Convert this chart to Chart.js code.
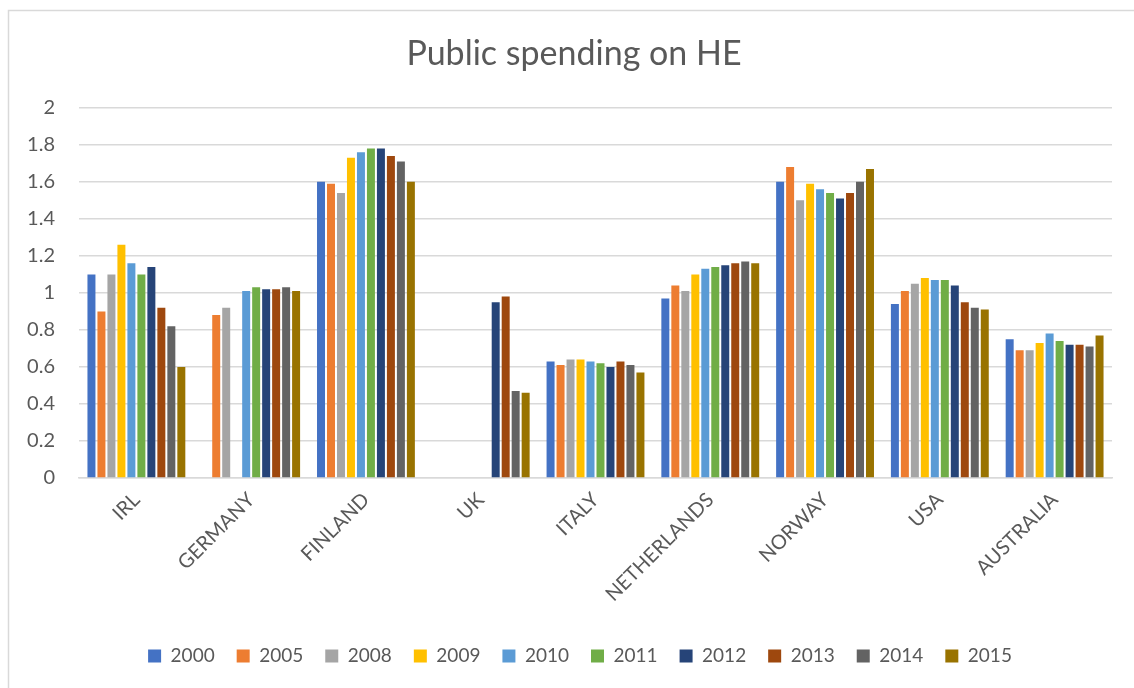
<!DOCTYPE html>
<html>
<head>
<meta charset="utf-8">
<title>Public spending on HE</title>
<script src="https://cdn.jsdelivr.net/npm/chart.js@4/dist/chart.umd.min.js"></script>
<style>
  html, body { margin: 0; padding: 0; background: #ffffff; }
  #wrap { position: relative; width: 1134px; height: 688px; overflow: hidden; }
  canvas { display: block; }
</style>
</head>
<body>
<div id="wrap"><canvas id="chart" width="1134" height="688"></canvas></div>
<script>
// Countries on the category axis
const countries = ['IRL', 'GERMANY', 'FINLAND', 'UK', 'ITALY', 'NETHERLANDS', 'NORWAY', 'USA', 'AUSTRALIA'];

// Public spending on higher education, one array per year (null = no data)
const y2000 = [1.10, null, 1.60, null, 0.63, 0.97, 1.60, 0.94, 0.75];
const y2005 = [0.90, 0.88, 1.59, null, 0.61, 1.04, 1.68, 1.01, 0.69];
const y2008 = [1.10, 0.92, 1.54, null, 0.64, 1.01, 1.50, 1.05, 0.69];
const y2009 = [1.26, null, 1.73, null, 0.64, 1.10, 1.59, 1.08, 0.73];
const y2010 = [1.16, 1.01, 1.76, null, 0.63, 1.13, 1.56, 1.07, 0.78];
const y2011 = [1.10, 1.03, 1.78, null, 0.62, 1.14, 1.54, 1.07, 0.74];
const y2012 = [1.14, 1.02, 1.78, 0.95, 0.60, 1.15, 1.51, 1.04, 0.72];
const y2013 = [0.92, 1.02, 1.74, 0.98, 0.63, 1.16, 1.54, 0.95, 0.72];
const y2014 = [0.82, 1.03, 1.71, 0.47, 0.61, 1.17, 1.60, 0.92, 0.71];
const y2015 = [0.60, 1.01, 1.60, 0.46, 0.57, 1.16, 1.67, 0.91, 0.77];

const years = ['2000', '2005', '2008', '2009', '2010', '2011', '2012', '2013', '2014', '2015'];
const seriesValues = [y2000, y2005, y2008, y2009, y2010, y2011, y2012, y2013, y2014, y2015];
const seriesColors = ['#4472C4', '#ED7D31', '#A5A5A5', '#FFC000', '#5B9BD5',
                      '#70AD47', '#264478', '#9E480E', '#636363', '#997300'];

// Y-axis tick labels
const yTicks = ['0', '0.2', '0.4', '0.6', '0.8', '1', '1.2', '1.4', '1.6', '1.8', '2'];

const textColor = '#595959';
const gridColor = '#d9d9d9';
const fontFamily = 'Lato, "Open Sans", "Liberation Sans", sans-serif';

// Light frame around the whole chart
const framePlugin = {
  id: 'frame',
  beforeDraw(chart) {
    const ctx = chart.ctx;
    ctx.save();
    ctx.fillStyle = '#ffffff';
    ctx.fillRect(0, 0, chart.width, chart.height);
    ctx.strokeStyle = gridColor;
    ctx.lineWidth = 1.5;
    ctx.strokeRect(8.5, 10.5, chart.width + 20, chart.height + 20);
    ctx.restore();
  }
};

// Centre the title and legend on the frame rather than on the padded layout box
const centreShift = {
  id: 'centreShift',
  afterLayout(chart) {
    if (chart.legend) {
      chart.legend.left += 19;
      chart.legend.right += 19;
    }
    if (chart.titleBlock) {
      chart.titleBlock.left += 13;
      chart.titleBlock.right += 13;
    }
  }
};

new Chart(document.getElementById('chart'), {
  type: 'bar',
  data: {
    labels: countries,
    datasets: years.map((yr, i) => ({
      label: yr,
      data: seriesValues[i],
      backgroundColor: seriesColors[i],
      borderWidth: 0,
      categoryPercentage: 0.87,
      barPercentage: 0.8
    }))
  },
  options: {
    responsive: false,
    animation: false,
    layout: { padding: { left: 10, right: 22, top: 0, bottom: 12.5 } },
    plugins: {
      title: {
        display: true,
        text: 'Public spending on HE',
        color: textColor,
        font: { family: fontFamily, size: 34, weight: 'normal' },
        padding: { top: 34, bottom: 33 }
      },
      legend: {
        position: 'bottom',
        labels: {
          color: textColor,
          boxWidth: 13,
          boxHeight: 13,
          padding: 22,
          font: { family: fontFamily, size: 19 }
        }
      },
      tooltip: { enabled: false }
    },
    scales: {
      x: {
        grid: { display: false, drawTicks: false },
        border: { display: true, color: gridColor, width: 1.5 },
        ticks: {
          color: textColor,
          font: { family: fontFamily, size: 20 },
          minRotation: 45,
          maxRotation: 45,
          padding: 10
        },
        afterFit(scale) { scale.height = 146.5; }
      },
      y: {
        min: 0,
        max: 2,
        grid: { color: gridColor, lineWidth: 1.5, drawTicks: false },
        border: { display: false },
        ticks: {
          stepSize: 0.2,
          color: textColor,
          font: { family: fontFamily, size: 20 },
          padding: 24,
          callback(value, index) { return yTicks[index]; }
        },
        afterFit(scale) { scale.width = 69; }
      }
    }
  },
  plugins: [framePlugin, centreShift]
});
</script>
</body>
</html>
